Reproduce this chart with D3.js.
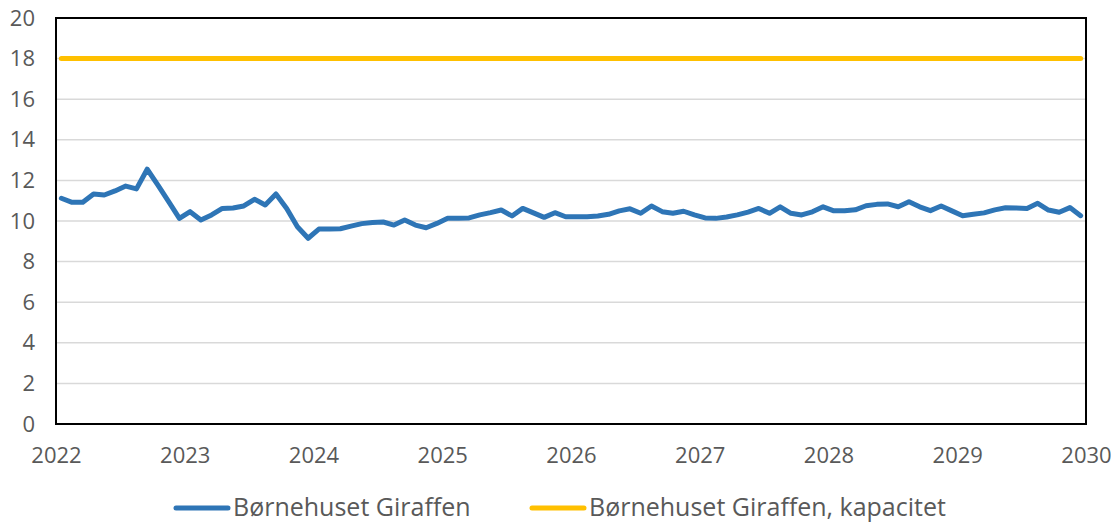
<!DOCTYPE html>
<html><head><meta charset="utf-8">
<script src="https://cdn.jsdelivr.net/npm/d3@7"></script>
<style>body{margin:0;background:#fff}svg{display:block}text{font-family:"Open Sans",sans-serif;fill:#595959}</style>
</head><body><svg id="c" width="1111" height="523"></svg>
<script>
const seriesNames = ["Børnehuset Giraffen", "Børnehuset Giraffen, kapacitet"];
const startYear = 2022;
const occupancy = [11.12,10.92,10.92,11.33,11.28,11.48,11.72,11.58,12.55,11.77,10.95,10.13,
10.46,10.05,10.3,10.62,10.64,10.74,11.07,10.79,11.33,10.62,9.72,9.15,
9.6,9.6,9.62,9.75,9.87,9.93,9.95,9.8,10.05,9.8,9.67,9.88,
10.13,10.13,10.15,10.3,10.41,10.54,10.25,10.62,10.4,10.18,10.41,10.21,
10.21,10.21,10.25,10.33,10.5,10.6,10.38,10.74,10.46,10.38,10.48,10.3,
10.15,10.13,10.2,10.3,10.44,10.62,10.38,10.7,10.38,10.3,10.45,10.7,
10.5,10.5,10.55,10.75,10.82,10.84,10.7,10.95,10.7,10.51,10.74,10.5,
10.26,10.33,10.4,10.55,10.65,10.64,10.62,10.87,10.54,10.43,10.66,10.26];
const capacity = occupancy.map(() => 18);
const xTicks = [2022,2023,2024,2025,2026,2027,2028,2029,2030];
const yTicks = [0,2,4,6,8,10,12,14,16,18,20];
const colors = ["#2E75B6", "#FFC000"];

const svg = d3.select("#c");
const L = 56, R = 1086, T = 18, B = 424;
const x = d3.scaleLinear().domain([2022, 2030]).range([L, R]);
const y = d3.scaleLinear().domain([0, 20]).range([B, T]);
const tOf = i => startYear + (i + 0.5) / 12;

// gridlines
svg.append("g").selectAll("line").data(yTicks.filter(d => d > 0)).join("line")
  .attr("x1", L).attr("x2", R).attr("y1", d => y(d)).attr("y2", d => y(d))
  .attr("stroke", "#d9d9d9").attr("stroke-width", 1.5);

// y axis labels
const ya = svg.append("g").attr("transform", `translate(${L},0)`)
  .call(d3.axisLeft(y).tickValues(yTicks).tickSize(0).tickPadding(21));
ya.select(".domain").remove();
ya.selectAll("text").attr("font-size", 22).attr("font-family", "Open Sans").attr("fill", "#595959");

// x axis labels
const xa = svg.append("g").attr("transform", `translate(0,${B})`)
  .call(d3.axisBottom(x).tickValues(xTicks).tickFormat(d3.format("d")).tickSize(0).tickPadding(23));
xa.select(".domain").remove();
xa.selectAll("text").attr("font-size", 22).attr("font-family", "Open Sans").attr("fill", "#595959");

const line = d3.line().x((d, i) => x(tOf(i))).y(d => y(d));
svg.append("path").datum(capacity).attr("d", line).attr("fill", "none")
  .attr("stroke", colors[1]).attr("stroke-width", 5).attr("stroke-linecap", "round");
svg.append("path").datum(occupancy).attr("d", line).attr("fill", "none")
  .attr("stroke", colors[0]).attr("stroke-width", 5).attr("stroke-linecap", "round").attr("stroke-linejoin", "round");

// frame
svg.append("rect").attr("x", L).attr("y", T).attr("width", R - L).attr("height", B - T)
  .attr("fill", "none").attr("stroke", "#000").attr("stroke-width", 2);

// legend
const leg = [{x: 176, name: seriesNames[0], c: colors[0]}, {x: 532, name: seriesNames[1], c: colors[1]}];
const lg = svg.append("g").selectAll("g").data(leg).join("g").attr("transform", d => `translate(${d.x},508)`);
lg.append("line").attr("x1", 0).attr("x2", 52).attr("stroke", d => d.c).attr("stroke-width", 5).attr("stroke-linecap", "round");
lg.append("text").attr("x", 57).attr("dy", "0.3em").attr("font-size", 25).text(d => d.name);
</script></body></html>
